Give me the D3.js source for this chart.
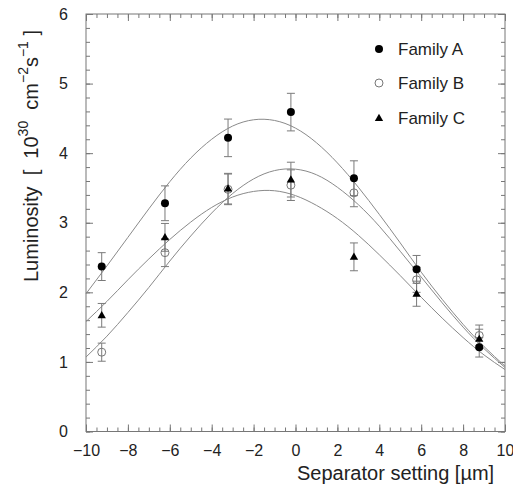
<!DOCTYPE html>
<html>
<head>
<meta charset="utf-8">
<script src="https://cdn.jsdelivr.net/npm/d3@7"></script>
<style>
body { margin: 0; background: #fff; }
svg text { font-family: "Liberation Sans", Arial, sans-serif; fill: #222; }
</style>
</head>
<body>
<svg id="chart" width="513" height="485"></svg>
<script>
// measured points, separator setting in um
var settings = [-9.25, -6.23, -3.22, -0.22, 2.79, 5.78, 8.77];
var famA = [2.37, 3.28, 4.22, 4.59, 3.64, 2.33, 1.21];
var errA = [0.20, 0.25, 0.27, 0.27, 0.25, 0.20, 0.14];
var famB = [1.14, 2.57, 3.48, 3.54, 3.43, 2.18, 1.38];
var errB = [0.13, 0.20, 0.22, 0.22, 0.20, 0.18, 0.15];
var famC = [1.67, 2.79, 3.49, 3.62, 2.51, 1.98, 1.33];
var errC = [0.17, 0.20, 0.22, 0.25, 0.20, 0.18, 0.14];

// fitted curves
var curveX = [-10, -9, -8, -7, -6, -5, -4, -3, -2, -1, 0, 1, 2, 3, 4, 5, 6, 7, 8, 9, 10];
var fitA = [1.98, 2.38, 2.79, 3.20, 3.59, 3.93, 4.20, 4.39, 4.48, 4.47, 4.36, 4.15, 3.86, 3.51, 3.12, 2.71, 2.29, 1.90, 1.54, 1.22, 0.94];
var fitB = [1.07, 1.37, 1.71, 2.07, 2.45, 2.81, 3.14, 3.42, 3.63, 3.75, 3.77, 3.69, 3.51, 3.26, 2.95, 2.59, 2.22, 1.85, 1.50, 1.19, 0.92];
var fitC = [1.58, 1.87, 2.18, 2.48, 2.76, 3.01, 3.22, 3.37, 3.45, 3.46, 3.39, 3.25, 3.06, 2.82, 2.54, 2.24, 1.93, 1.63, 1.35, 1.10, 0.89];

var xTicks = [-10, -8, -6, -4, -2, 0, 2, 4, 6, 8, 10];
var yTicks = [0, 1, 2, 3, 4, 5, 6];
var legendNames = ["Family A", "Family B", "Family C"];

var svg = d3.select("#chart");
var plotLeft = 86, plotRight = 505, plotTop = 14, plotBottom = 431.5;

var x = d3.scaleLinear().domain([-10, 10]).range([plotLeft, plotRight]);
var y = d3.scaleLinear().domain([0, 6]).range([plotBottom, plotTop]);

var axisColor = "#777";
var fontName = "Liberation Sans, Arial, sans-serif";

// frame
svg.append("rect")
    .attr("x", plotLeft).attr("y", plotTop)
    .attr("width", plotRight - plotLeft).attr("height", plotBottom - plotTop)
    .attr("fill", "none").attr("stroke", axisColor).attr("stroke-width", 1);

// ticks on all four sides, pointing inwards
function addAxis(minorAxis, majorAxis, transform) {
    var g = svg.append("g").attr("transform", transform).call(minorAxis);
    g.select(".domain").remove();
    g.selectAll("line").attr("stroke", axisColor);
    var g2 = svg.append("g").attr("transform", transform).call(majorAxis);
    g2.select(".domain").remove();
    g2.selectAll("line").attr("stroke", axisColor);
    g2.selectAll("text").attr("font-size", 16).style("font-family", fontName).attr("fill", "#222");
    return g2;
}

var xMinor = d3.range(-10, 10.01, 0.5);
var yMinor = d3.range(0, 6.01, 0.2);

var fmt = function (d) { return d < 0 ? "\u2212" + Math.abs(d) : d; };

addAxis(d3.axisBottom(x).tickValues(xMinor).tickSize(-4).tickFormat(""),
    d3.axisBottom(x).tickValues(xTicks).tickSize(-7).tickPadding(13).tickFormat(fmt),
    "translate(0," + plotBottom + ")");

addAxis(d3.axisTop(x).tickValues(xMinor).tickSize(-4).tickFormat(""),
    d3.axisTop(x).tickValues(xTicks).tickSize(-7).tickFormat(""),
    "translate(0," + plotTop + ")");

addAxis(d3.axisLeft(y).tickValues(yMinor).tickSize(-4).tickFormat(""),
    d3.axisLeft(y).tickValues(yTicks).tickSize(-7).tickPadding(18).tickFormat(d3.format("d")),
    "translate(" + plotLeft + ",0)");

addAxis(d3.axisRight(y).tickValues(yMinor).tickSize(-4).tickFormat(""),
    d3.axisRight(y).tickValues(yTicks).tickSize(-7).tickFormat(""),
    "translate(" + plotRight + ",0)");

// axis titles
svg.append("text")
    .attr("x", 297).attr("y", 473)
    .attr("font-size", 20)
    .attr("dominant-baseline", "central")
    .text("Separator setting [\u00b5m]");

var yt = svg.append("text")
    .attr("transform", "translate(31,156) rotate(-90)")
    .attr("text-anchor", "middle")
    .attr("dominant-baseline", "central")
    .attr("font-size", 20)
    .attr("xml:space", "preserve");
yt.append("tspan").text("Luminosity  [  10");
yt.append("tspan").attr("font-size", 14).attr("dy", -8).text("30");
yt.append("tspan").attr("dy", 8).text("  cm");
yt.append("tspan").attr("font-size", 14).attr("dy", -8).text("\u22122");
yt.append("tspan").attr("dy", 8).text("s");
yt.append("tspan").attr("font-size", 14).attr("dy", -8).text("\u22121");
yt.append("tspan").attr("dy", 8).text(" ]");

// fitted curves
var line = d3.line()
    .x(function (d) { return x(d[0]); })
    .y(function (d) { return y(d[1]); })
    .curve(d3.curveNatural);

[fitA, fitB, fitC].forEach(function (fit) {
    svg.append("path")
        .datum(curveX.map(function (cx, i) { return [cx, fit[i]]; }))
        .attr("d", line)
        .attr("fill", "none")
        .attr("stroke", "#8a8a8a")
        .attr("stroke-width", 1);
});

// error bars
function errorBars(vals, errs) {
    settings.forEach(function (s, i) {
        var cx = x(s), y1 = y(vals[i] + errs[i]), y2 = y(vals[i] - errs[i]);
        var g = svg.append("g").attr("stroke", "#7a7a7a").attr("stroke-width", 1);
        g.append("line").attr("x1", cx).attr("x2", cx).attr("y1", y1).attr("y2", y2);
        g.append("line").attr("x1", cx - 4).attr("x2", cx + 4).attr("y1", y1).attr("y2", y1);
        g.append("line").attr("x1", cx - 4).attr("x2", cx + 4).attr("y1", y2).attr("y2", y2);
    });
}
errorBars(famA, errA);
errorBars(famB, errB);
errorBars(famC, errC);

var tri = d3.symbol().type(d3.symbolTriangle).size(30);

function drawMarker(kind, cx, cy) {
    if (kind == 0) {
        svg.append("circle").attr("cx", cx).attr("cy", cy).attr("r", 4).attr("fill", "#000");
    } else if (kind == 1) {
        svg.append("circle").attr("cx", cx).attr("cy", cy).attr("r", 4)
            .attr("fill", "none").attr("stroke", "#777").attr("stroke-width", 1);
    } else {
        svg.append("path").attr("d", tri).attr("transform", "translate(" + cx + "," + (cy + 0.5) + ")")
            .attr("fill", "#000");
    }
}

[famA, famB, famC].forEach(function (vals, k) {
    settings.forEach(function (s, i) {
        drawMarker(k, x(s), y(vals[i]));
    });
});

// legend
var legendY = [49, 83, 118];
legendNames.forEach(function (name, k) {
    drawMarker(k, 379, legendY[k]);
    svg.append("text")
        .attr("x", 398).attr("y", legendY[k])
        .attr("dominant-baseline", "central")
        .attr("font-size", 17)
        .text(name);
});
</script>
</body>
</html>
